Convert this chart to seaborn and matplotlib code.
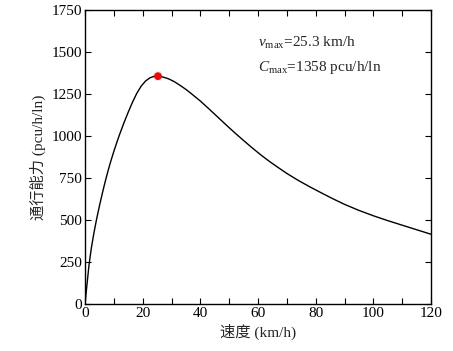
import numpy as np
import pandas as pd
import matplotlib
matplotlib.use("Agg")
import matplotlib.pyplot as plt
from matplotlib.ticker import MultipleLocator
import seaborn as sns

# Data
speed = [0, 0.7, 1.4, 2.2, 3.1, 4.0, 5.0, 6.0, 7.0, 8.0, 9.0, 10.0, 11.0, 12.0,
         13.5, 15.0, 16.5, 18.0, 19.5, 21.0, 22.5, 24.0, 25.3, 27.0, 29.0,
         31.0, 33.0, 35.0, 37.0, 40.0, 43.0, 46.0, 49.0, 52.0, 55.0, 58.0,
         61.0, 64.0, 67.0, 70.0, 74.0, 78.0, 82.0, 86.0, 90.0, 95.0, 100.0,
         105.0, 110.0, 115.0, 120.0]
flow = [0, 120, 235, 335, 425, 505, 585, 660, 730, 795, 855, 910, 962, 1011,
        1080, 1144, 1204, 1257, 1299, 1329, 1348, 1357, 1358, 1353, 1342,
        1325, 1303, 1279, 1252, 1210, 1163, 1115, 1067, 1020, 975, 931,
        889, 850, 814, 779, 737, 699, 663, 628, 595, 559, 527,
        498, 471, 444, 417]
peak_speed = [25.3]
peak_flow = [1358]
xlabel = "速度 (km/h)"
ylabel = "通行能力 (pcu/h/ln)"
ann_v = r"$v_{\mathrm{max}}$=25.3 km/h"
ann_c = r"$C_{\mathrm{max}}$=1358 pcu/h/ln"

sns.set_theme(style="ticks")
plt.rcParams["font.family"] = ["Liberation Serif", "Noto Sans CJK SC"]
plt.rcParams["mathtext.fontset"] = "custom"
plt.rcParams["mathtext.rm"] = "Liberation Serif"
plt.rcParams["mathtext.it"] = "Liberation Serif:italic"

df = pd.DataFrame({"speed": speed, "flow": flow})
pk = pd.DataFrame({"speed": peak_speed, "flow": peak_flow})

fig = plt.figure(figsize=(4.53, 3.51), dpi=100)
ax = fig.add_axes([85 / 453, 1 - 304.3 / 351, (431 - 85) / 453, (304.3 - 10.3) / 351])

sns.lineplot(data=df, x="speed", y="flow", ax=ax, color="black", linewidth=1.0,
             sort=False, estimator=None)
sns.scatterplot(data=pk, x="speed", y="flow", ax=ax, color="#ff0000", s=32,
                edgecolor="none", zorder=5)

ax.set_xlim(0, 120)
ax.set_ylim(0, 1750)
ax.xaxis.set_major_locator(MultipleLocator(20))
ax.xaxis.set_minor_locator(MultipleLocator(10))
ax.yaxis.set_major_locator(MultipleLocator(250))
ax.tick_params(which="both", direction="in", top=True, right=True, length=4,
               width=0.8, labelsize=11, colors="black", pad=2)
for s in ax.spines.values():
    s.set_visible(True)
    s.set_linewidth(1.0)
    s.set_color("black")

ax.set_xlabel(xlabel, fontsize=11, labelpad=3)
ax.set_ylabel(ylabel, fontsize=11, labelpad=4)

ax.text(60, 1555, ann_v, fontsize=11, va="center", ha="left")
ax.text(60, 1412, ann_c, fontsize=11, va="center", ha="left")

fig.savefig("out.png", dpi=100)
